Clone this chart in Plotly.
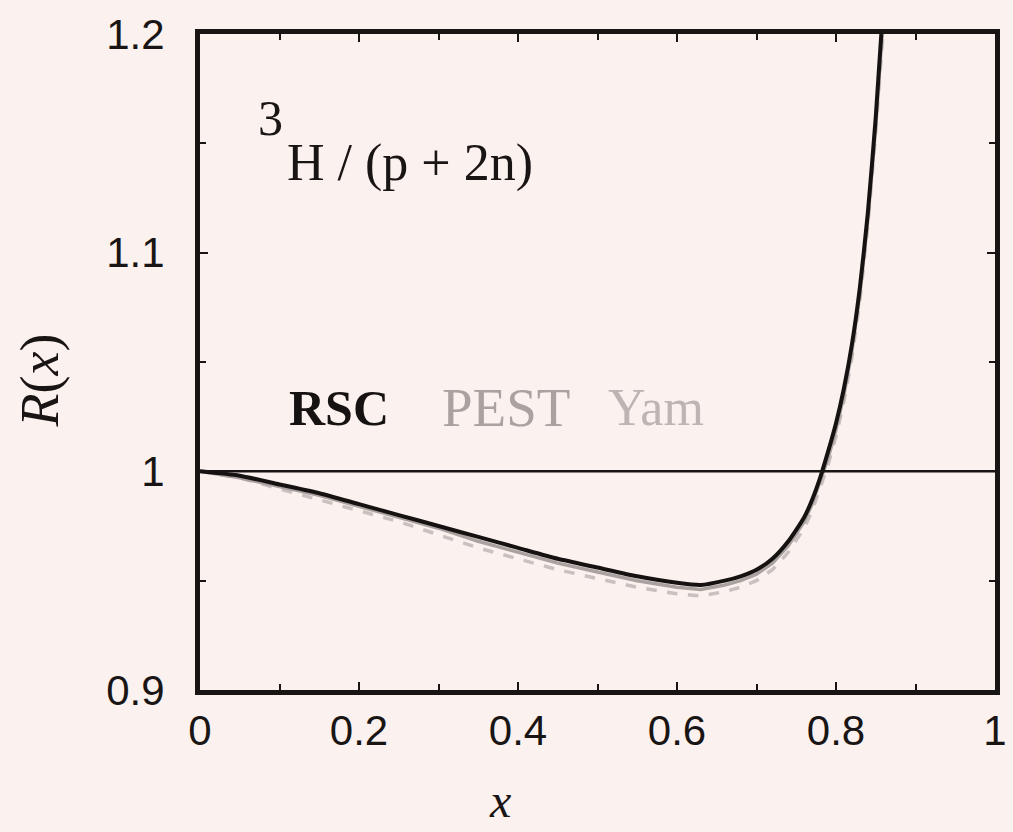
import plotly.graph_objects as go

# Data
x_rsc = [0.0, 0.05, 0.10, 0.15, 0.20, 0.25, 0.30, 0.35, 0.40, 0.45, 0.50, 0.55, 0.60, 0.63, 0.66,
         0.68, 0.70, 0.72, 0.74, 0.76, 0.77, 0.78, 0.79, 0.80, 0.81, 0.82, 0.83, 0.84, 0.85, 0.857]
r_rsc = [1.000, 0.998, 0.994, 0.990, 0.985, 0.980, 0.975, 0.970, 0.965, 0.960, 0.956, 0.952, 0.949, 0.948, 0.950,
         0.952, 0.955, 0.960, 0.968, 0.979, 0.987, 0.997, 1.009, 1.022, 1.038, 1.058, 1.084, 1.118, 1.162, 1.200]

x_pest = [0.0, 0.05, 0.10, 0.15, 0.20, 0.25, 0.30, 0.35, 0.40, 0.45, 0.50, 0.55, 0.60, 0.63, 0.66,
          0.68, 0.70, 0.72, 0.74, 0.76, 0.77, 0.78, 0.79, 0.80, 0.81, 0.82, 0.83, 0.84, 0.85, 0.858]
r_pest = [1.000, 0.997, 0.993, 0.989, 0.984, 0.979, 0.974, 0.968, 0.963, 0.958, 0.954, 0.950, 0.947, 0.946, 0.948,
          0.950, 0.953, 0.958, 0.966, 0.977, 0.985, 0.995, 1.006, 1.019, 1.035, 1.055, 1.081, 1.115, 1.158, 1.200]

x_yam = [0.0, 0.05, 0.10, 0.15, 0.20, 0.25, 0.30, 0.35, 0.40, 0.45, 0.50, 0.55, 0.60, 0.63, 0.66,
         0.68, 0.70, 0.72, 0.74, 0.76, 0.77, 0.78, 0.79, 0.80, 0.81, 0.82, 0.83, 0.84, 0.85, 0.859]
r_yam = [1.000, 0.997, 0.992, 0.987, 0.982, 0.977, 0.971, 0.965, 0.960, 0.955, 0.951, 0.947, 0.944, 0.943, 0.945,
         0.947, 0.950, 0.955, 0.963, 0.974, 0.982, 0.992, 1.003, 1.016, 1.032, 1.052, 1.078, 1.112, 1.155, 1.200]

x_ticks = [0, 0.2, 0.4, 0.6, 0.8, 1]
y_ticks = [0.9, 1.0, 1.1, 1.2]
x_tick_text = ["0", "0.2", "0.4", "0.6", "0.8", "1"]
y_tick_text = ["0.9", "1", "1.1", "1.2"]

BG = "#fbf1ee"
INK = "#1a1515"
serif = "Liberation Serif, Times New Roman"

fig = go.Figure()
fig.add_trace(go.Scatter(x=x_yam, y=r_yam, mode="lines", name="Yam",
                         line=dict(color="#c9c1c0", width=3.5, dash="dash")))
fig.add_trace(go.Scatter(x=x_pest, y=r_pest, mode="lines", name="PEST",
                         line=dict(color="#aaa2a1", width=3.5)))
fig.add_trace(go.Scatter(x=x_rsc, y=r_rsc, mode="lines", name="RSC",
                         line=dict(color="#161212", width=4, shape="spline", smoothing=0.6)))
fig.add_trace(go.Scatter(x=[0, 1], y=[1, 1], mode="lines", showlegend=False,
                         line=dict(color=INK, width=2.5)))

axis_common = dict(showline=True, linecolor=INK, linewidth=5, mirror="ticks",
                   ticks="inside", ticklen=8, tickwidth=2, tickcolor=INK,
                   showgrid=False, zeroline=False, ticklabeloverflow="allow",
                   tickfont=dict(family="Liberation Sans, Arial", size=42, color=INK))

fig.update_xaxes(range=[0, 1], tickvals=x_ticks, ticktext=x_tick_text,
                 minor=dict(dtick=0.1, ticks="inside", ticklen=6, tickcolor=INK, tickwidth=2),
                 ticklabelstandoff=0, **axis_common)
fig.update_yaxes(range=[0.9, 1.2], tickvals=y_ticks, ticktext=y_tick_text,
                 minor=dict(dtick=0.05, ticks="inside", ticklen=6, tickcolor=INK, tickwidth=2),
                 ticklabelstandoff=22, **axis_common)

L, R, T, B = 200, 6, 34, 142
PW = 1013 - L - R
PH = 832 - T - B


def px(xp):
    return (xp - L) / PW


def py(yp):
    return (832 - B - yp) / PH


# axis titles
fig.add_annotation(text="<i>R</i>(<i>x</i>)", xref="paper", yref="paper", x=px(38), y=py(380),
                   textangle=-90, showarrow=False, xanchor="center", yanchor="middle",
                   font=dict(family=serif, size=54, color=INK))
fig.add_annotation(text="<i>x</i>", xref="paper", yref="paper", x=px(505), y=py(800),
                   showarrow=False, xanchor="center", yanchor="middle",
                   font=dict(family=serif, size=48, color=INK))

fig.add_annotation(text="3", xref="paper", yref="paper", x=px(272), y=py(118),
                   showarrow=False, xanchor="center", yanchor="middle",
                   font=dict(family=serif, size=50, color=INK))
fig.add_annotation(text="H / (p + 2n)", xref="paper", yref="paper", x=px(286), y=py(163),
                   showarrow=False, xanchor="left", yanchor="middle",
                   font=dict(family=serif, size=52, color=INK))

legend_items = [("<b>RSC</b>", 288, "#161212", 50), ("PEST", 444, "#aaa2a1", 55), ("Yam", 612, "#bdb5b4", 52)]
for txt, xp, col, sz in legend_items:
    fig.add_annotation(text=txt, xref="paper", yref="paper", x=px(xp), y=py(408),
                       showarrow=False, xanchor="left", yanchor="middle",
                       font=dict(family=serif, size=sz, color=col))

fig.update_layout(width=1013, height=832, paper_bgcolor=BG, plot_bgcolor=BG,
                  margin=dict(l=L, r=R, t=T, b=B), showlegend=False)

fig.write_html("out.html")
